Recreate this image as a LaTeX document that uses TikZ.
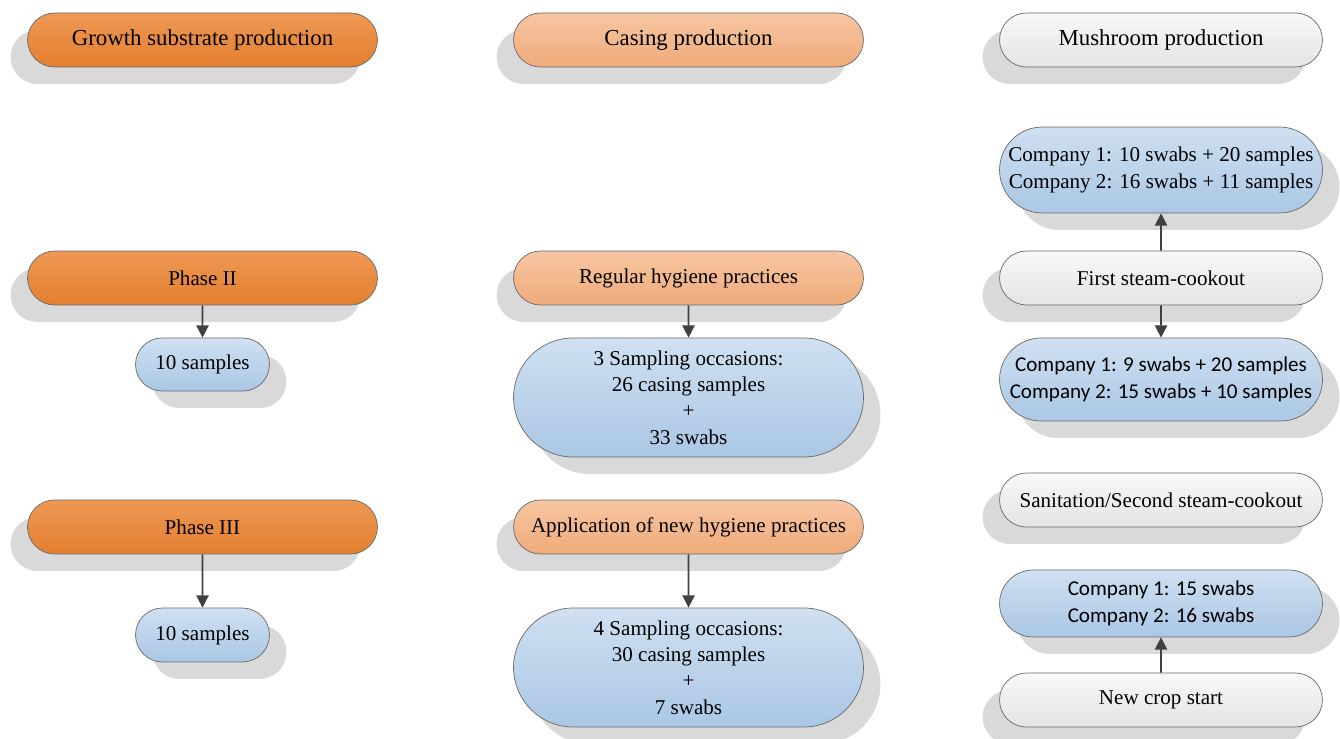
\documentclass[tikz,border=0pt]{standalone}
\usepackage{fontspec}
\setmainfont{Liberation Serif}
\newfontfamily\calibrifont{Carlito}
\usetikzlibrary{shapes.misc,shadows,arrows.meta,positioning}

\definecolor{orangetop}{RGB}{238,152,84}
\definecolor{orangebot}{RGB}{227,127,48}
\definecolor{peachtop}{RGB}{247,198,162}
\definecolor{peachbot}{RGB}{239,171,122}
\definecolor{greytop}{RGB}{248,248,248}
\definecolor{greybot}{RGB}{228,228,228}
\definecolor{bluetop}{RGB}{207,224,241}
\definecolor{bluebot}{RGB}{170,199,228}
\definecolor{shadowgrey}{RGB}{217,217,217}
\definecolor{edgegrey}{RGB}{105,105,105}
\definecolor{arrowgrey}{RGB}{64,64,64}

\tikzset{
  pill/.style={rounded rectangle, draw=edgegrey, line width=0.4pt, align=center, inner sep=2pt,
    font=\fontsize{12}{15}\selectfont},
  headfont/.style={font=\fontsize{13}{15}\selectfont},
  sansfont/.style={font=\calibrifont\fontsize{12}{15}\selectfont},
  leftshadow/.style={drop shadow={shadow xshift=-0.34cm, shadow yshift=-0.34cm, fill=shadowgrey, opacity=1}},
  rightshadow/.style={drop shadow={shadow xshift=0.34cm, shadow yshift=-0.34cm, fill=shadowgrey, opacity=1}},
  orangebox/.style={pill, leftshadow, top color=orangetop, bottom color=orangebot},
  peachbox/.style={pill, leftshadow, top color=peachtop, bottom color=peachbot},
  greybox/.style={pill, leftshadow, top color=greytop, bottom color=greybot},
  bluebox/.style={pill, rightshadow, top color=bluetop, bottom color=bluebot},
  wide/.style={minimum width=7.14cm, minimum height=1.08cm},
  narrow/.style={minimum width=6.6cm, minimum height=1.08cm},
  flow/.style={-{Triangle[length=7pt,width=7pt]}, draw=arrowgrey, line width=0.9pt}
}

\begin{document}
\begin{tikzpicture}[x=0.02cm,y=-0.02cm]
\useasboundingbox (0,0) rectangle (1340,739);

% growth substrate
\node[orangebox, wide, headfont] (gsp) at (202.5,40) {Growth substrate production};
\node[orangebox, wide] (ph2) at (202.5,278) {Phase II};
\node[bluebox, minimum width=2.82cm, minimum height=1.06cm] (smp2) at (202.5,364.5) {10 samples};
\node[orangebox, wide] (ph3) at (202.5,527) {Phase III};
\node[bluebox, minimum width=2.82cm, minimum height=1.08cm] (smp3) at (202.5,635) {10 samples};

% casing
\node[peachbox, wide, headfont] (cas) at (688.5,40) {Casing production};
\node[peachbox, wide] (reg) at (688.5,278) {Regular hygiene practices};
\node[bluebox, minimum width=7.14cm, minimum height=2.38cm] (occ3) at (688.5,397.5)
  {3 Sampling occasions:\\26 casing samples\\+\\33 swabs};
\node[peachbox, wide] (app) at (688.5,527) {Application of new hygiene practices};
\node[bluebox, minimum width=7.14cm, minimum height=2.38cm] (occ4) at (688.5,667.5)
  {4 Sampling occasions:\\30 casing samples\\+\\7 swabs};

% mushroom
\node[greybox, narrow, headfont] (mush) at (1161,40) {Mushroom production};
\node[bluebox, minimum width=6.6cm, minimum height=1.72cm] (comp1) at (1161,170)
  {Company 1: 10 swabs + 20 samples\\Company 2: 16 swabs + 11 samples};
\node[greybox, narrow] (fsc) at (1161,278) {First steam-cookout};
\node[bluebox, sansfont, minimum width=6.6cm, minimum height=1.66cm] (comp2) at (1161,379.5)
  {Company 1: 9 swabs + 20 samples\\Company 2: 15 swabs + 10 samples};
\node[greybox, narrow] (san) at (1161,500) {Sanitation/Second steam-cookout};
\node[bluebox, sansfont, minimum width=6.6cm, minimum height=1.34cm] (comp3) at (1161,603.5)
  {Company 1: 15 swabs\\Company 2: 16 swabs};
\node[greybox, narrow] (ncs) at (1161,700) {New crop start};

% arrows
\draw[flow] (ph2) -- (smp2);
\draw[flow] (ph3) -- (smp3);
\draw[flow] (reg) -- (occ3);
\draw[flow] (app) -- (occ4);
\draw[flow] (fsc) -- (comp1);
\draw[flow] (fsc) -- (comp2);
\draw[flow] (ncs) -- (comp3);

\end{tikzpicture}
\end{document}
